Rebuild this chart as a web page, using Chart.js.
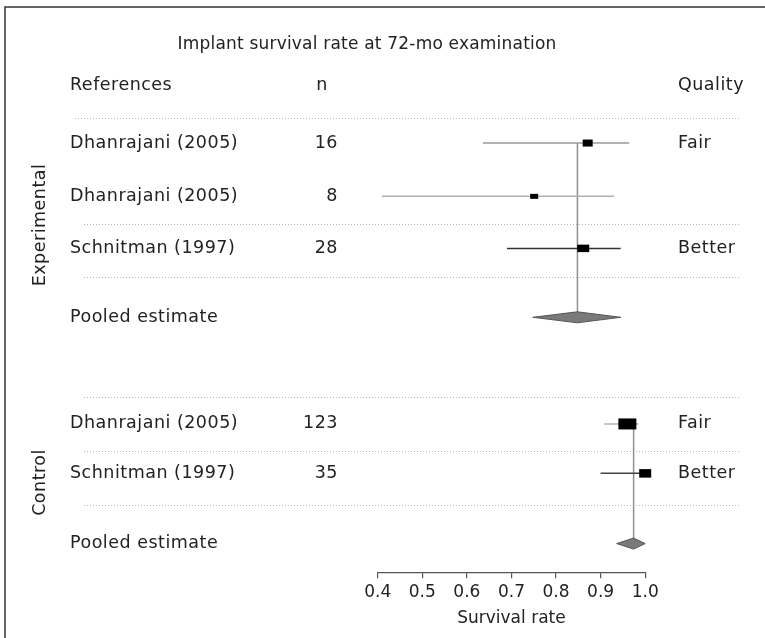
<!DOCTYPE html>
<html lang="en">
<head>
<meta charset="UTF-8">
<title>Implant survival rate at 72-mo examination</title>
<script src="https://cdn.jsdelivr.net/npm/chart.js"></script>
<style>
  body { margin: 0; background: #fff; }
</style>
</head>
<body>
<canvas id="forest" width="765" height="638"></canvas>
<script>
// ---- data ----
const studies  = ['Dhanrajani (2005)', 'Dhanrajani (2005)', 'Schnitman (1997)', 'Dhanrajani (2005)', 'Schnitman (1997)'];
const groups   = ['Experimental', 'Experimental', 'Experimental', 'Control', 'Control'];
const nValues  = [16, 8, 28, 123, 35];
const quality  = ['Fair', '', 'Better', 'Fair', 'Better'];
const estimate = [0.871, 0.751, 0.861, 0.960, 1.000];
const lower    = [0.636, 0.409, 0.690, 0.908, 0.900];
const upper    = [0.964, 0.930, 0.945, 0.985, 1.000];

const pooledGroups = ['Experimental', 'Control'];
const pooledEst    = [0.848, 0.974];
const pooledLower  = [0.748, 0.936];
const pooledUpper  = [0.945, 1.000];

const xTicks = [0.4, 0.5, 0.6, 0.7, 0.8, 0.9, 1.0];

// ---- layout (row positions on the y scale, 0 = bottom) ----
const studyRows  = [16.5, 14.45, 12.45, 5.7, 3.8];
const pooledRows = [9.8, 1.1];
const sepRows    = [13.4, 11.35, 6.75, 4.65, 2.6];
const headerRow  = 18.73;
const headerSep  = 17.45;
const titleRow   = 20.3;
const groupRows  = { Experimental: 13.35, Control: 3.45 };

// ---- styles ----
const FONT = '"DejaVu Sans", sans-serif';
const TEXT = '#222';
const ciColors = ['#9a9a9a', '#b0b0b0', '#333', '#b0b0b0', '#444'];
const boxW = [10, 8, 12, 18, 12];
const boxH = [7, 5, 7.5, 11, 8.5];

const datasets = [];
studies.forEach((s, i) => {
  datasets.push({
    data: [{ x: lower[i], y: studyRows[i] }, { x: upper[i], y: studyRows[i] }],
    showLine: true, borderColor: ciColors[i], borderWidth: 1.5, pointRadius: 0
  });
});
pooledGroups.forEach((g, k) => {
  const rows = studyRows.filter((r, i) => groups[i] === g);
  datasets.push({
    data: [{ x: pooledEst[k], y: Math.max(...rows) }, { x: pooledEst[k], y: pooledRows[k] }],
    showLine: true, borderColor: '#909090', borderWidth: 1.5, pointRadius: 0
  });
});

const forestPlugin = {
  id: 'forest',
  beforeDatasetsDraw(chart) {
    const ctx = chart.ctx, y = chart.scales.y;
    ctx.save();
    // frame (left and top edges)
    ctx.strokeStyle = '#333';
    ctx.lineWidth = 1.5;
    ctx.beginPath();
    ctx.moveTo(5, 638); ctx.lineTo(5, 7); ctx.lineTo(765, 7);
    ctx.stroke();
    // dotted separators
    ctx.strokeStyle = '#b8b8b8';
    ctx.lineWidth = 1;
    ctx.setLineDash([1, 2]);
    const drawSep = (row, x0) => {
      const py = Math.round(y.getPixelForValue(row)) + 0.5;
      ctx.beginPath(); ctx.moveTo(x0, py); ctx.lineTo(740, py); ctx.stroke();
    };
    drawSep(headerSep, 75);
    sepRows.forEach(r => drawSep(r, 84));
    ctx.restore();
  },
  afterDatasetsDraw(chart) {
    const ctx = chart.ctx, x = chart.scales.x, y = chart.scales.y;
    ctx.save();
    // study boxes
    ctx.fillStyle = '#000';
    estimate.forEach((e, i) => {
      const px = x.getPixelForValue(e), py = y.getPixelForValue(studyRows[i]);
      ctx.fillRect(px - boxW[i] / 2, py - boxH[i] / 2, boxW[i], boxH[i]);
    });
    // pooled diamonds
    ctx.fillStyle = '#7a7a7a';
    ctx.strokeStyle = '#555';
    ctx.lineWidth = 1;
    pooledEst.forEach((e, k) => {
      const py = y.getPixelForValue(pooledRows[k]);
      ctx.beginPath();
      ctx.moveTo(x.getPixelForValue(pooledLower[k]), py);
      ctx.lineTo(x.getPixelForValue(e), py - 5.5);
      ctx.lineTo(x.getPixelForValue(pooledUpper[k]), py);
      ctx.lineTo(x.getPixelForValue(e), py + 5.5);
      ctx.closePath();
      ctx.fill(); ctx.stroke();
    });

    // title
    ctx.fillStyle = TEXT;
    ctx.textBaseline = 'middle';
    ctx.textAlign = 'center';
    ctx.font = '17px ' + FONT;
    ctx.letterSpacing = '0.2px';
    ctx.fillText('Implant survival rate at 72-mo examination', 367, y.getPixelForValue(titleRow));

    // text columns
    ctx.font = '17.5px ' + FONT;
    ctx.letterSpacing = '0.5px';
    const hy = y.getPixelForValue(headerRow);
    ctx.textAlign = 'left';
    ctx.fillText('References', 70, hy);
    ctx.fillText('Quality', 678, hy);
    ctx.textAlign = 'center';
    ctx.fillText('n', 322, hy);

    studies.forEach((s, i) => {
      const py = y.getPixelForValue(studyRows[i]);
      ctx.textAlign = 'left';
      ctx.fillText(s, 70, py);
      if (quality[i]) ctx.fillText(quality[i], 678, py);
      ctx.textAlign = 'right';
      ctx.fillText(String(nValues[i]), 338, py);
    });
    ctx.textAlign = 'left';
    pooledRows.forEach(r => ctx.fillText('Pooled estimate', 70, y.getPixelForValue(r)));

    // rotated group labels
    ctx.textAlign = 'center';
    pooledGroups.forEach(g => {
      ctx.save();
      ctx.translate(40, y.getPixelForValue(groupRows[g]));
      ctx.rotate(-Math.PI / 2);
      ctx.fillText(g, 0, 0);
      ctx.restore();
    });
    ctx.restore();
  }
};

new Chart(document.getElementById('forest'), {
  type: 'scatter',
  data: { datasets: datasets },
  options: {
    responsive: false,
    animation: false,
    devicePixelRatio: 1,
    layout: { padding: { left: 377.7, right: 119.8, top: 26, bottom: 5 } },
    plugins: { legend: { display: false }, tooltip: { enabled: false } },
    scales: {
      x: {
        type: 'linear', min: 0.4, max: 1.0,
        afterBuildTicks: axis => { axis.ticks = xTicks.map(v => ({ value: v })); },
        grid: { drawOnChartArea: false, drawTicks: true, tickLength: 6, color: '#555', lineWidth: 1.2 },
        border: { display: true, color: '#555', width: 1.2 },
        ticks: {
          padding: 4, color: TEXT, maxRotation: 0,
          font: { family: FONT, size: 17 },
          callback: v => Number(v).toFixed(1)
        },
        title: { display: true, text: 'Survival rate', color: TEXT, font: { family: FONT, size: 17 }, padding: { top: 2, bottom: 4 } }
      },
      y: { display: false, min: 0, max: 21 }
    }
  },
  plugins: [forestPlugin]
});
</script>
</body>
</html>
